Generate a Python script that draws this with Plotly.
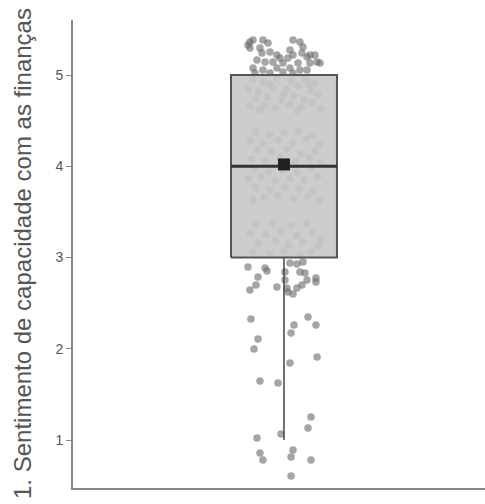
import plotly.graph_objects as go

# ---- data ----
y_title = "1. Sentimento de capacidade com as finanças"
tick_vals = [1, 2, 3, 4, 5]
tick_text = ["1", "2", "3", "4", "5"]

# box statistics
q1, median, q3 = 3, 4, 5
whisker_low, whisker_high = 1, 5
mean_val = 4.02

# jittered observations (x offset from box centre, jittered y)
jx_1 = [0.191, 0.170, -0.191, -0.021, -0.170, -0.149, 0.064, 0.050, 0.191, 0.050]
jy_1 = [1.252, 1.132, 1.022, 1.066, 0.858, 0.781, 0.890, 0.814, 0.781, 0.605]

jx_2 = [-0.234, -0.184, -0.212, -0.170, -0.042, 0.170, 0.071, 0.226, 0.050, 0.234, 0.042]
jy_2 = [2.326, 2.107, 1.997, 1.647, 1.625, 2.348, 2.260, 2.260, 2.173, 1.910, 1.844]

jx_3 = [-0.255, -0.134, -0.120, -0.184, -0.198, -0.241, -0.050, 0.007, 0.007, 0.021, 0.028,
        0.064, 0.042, 0.092, 0.134, 0.113, 0.149, 0.163, 0.226, 0.226, 0.127, 0.092,
        -0.20, -0.08, 0.05, 0.16, -0.24, -0.13, -0.02, 0.09, 0.20, -0.18, -0.06, 0.03,
        0.13, 0.24, -0.22, -0.10, 0.00, 0.11, 0.19, 0.26]
jy_3 = [2.896, 2.885, 2.852, 2.786, 2.699, 2.644, 2.677, 2.841, 2.753, 2.666, 2.622,
        2.600, 2.940, 2.929, 2.951, 2.841, 2.830, 2.753, 2.775, 2.732, 2.699, 2.666,
        3.36, 3.38, 3.35, 3.37, 3.27, 3.25, 3.29, 3.24, 3.28, 3.16, 3.18, 3.14,
        3.17, 3.13, 3.06, 3.04, 3.07, 3.03, 3.06, 3.20]

jx_4 = [-0.20, -0.10, 0.00, 0.10, 0.20, -0.24, -0.15, -0.04, 0.06, 0.16, 0.25, -0.19,
        -0.09, 0.02, 0.12, 0.22, -0.23, -0.13, -0.03, 0.08, 0.18, 0.26,
        -0.21, -0.11, -0.01, 0.09, 0.19, -0.25, -0.16, -0.06, 0.04, 0.14, 0.24, -0.20,
        -0.10, 0.01, 0.11, 0.21, -0.14, -0.04, 0.07, 0.17, -0.22, 0.25]
jy_4 = [4.38, 4.35, 4.37, 4.39, 4.34, 4.28, 4.25, 4.29, 4.26, 4.30, 4.24, 4.18,
        4.16, 4.19, 4.14, 4.17, 4.08, 4.06, 4.10, 4.05, 4.09, 4.03,
        3.97, 3.94, 3.96, 3.93, 3.98, 3.86, 3.88, 3.84, 3.87, 3.85, 3.89, 3.77,
        3.74, 3.78, 3.75, 3.72, 3.66, 3.68, 3.64, 3.67, 3.63, 3.62]

jx_5 = [-0.241, -0.219, -0.149, -0.113, 0.064, 0.113, 0.134, -0.241, -0.170, -0.156,
        -0.099, -0.050, -0.028, 0.042, 0.064, 0.127, 0.163, 0.184, 0.219, 0.234, 0.184,
        0.099, 0.028, -0.007, -0.078, -0.134, -0.191, -0.219, -0.149, -0.050, 0.042,
        0.113, 0.163, -0.007, 0.064, -0.099, -0.205, -0.255, 0.255,
        -0.22, -0.15, -0.05, 0.05, 0.15, 0.22, -0.25, -0.18, -0.08, 0.02, 0.10, 0.19,
        0.24, -0.20, -0.12, -0.02, 0.07, 0.14, -0.24, -0.14, -0.06, 0.04, 0.12, 0.20,
        -0.17, 0.09, 0.26, -0.10, 0.00, 0.18]
jy_5 = [5.362, 5.384, 5.384, 5.351, 5.384, 5.362, 5.307, 5.296, 5.296, 5.241,
        5.252, 5.219, 5.186, 5.274, 5.219, 5.241, 5.197, 5.219, 5.219, 5.142, 5.132,
        5.132, 5.186, 5.132, 5.142, 5.142, 5.164, 5.077, 5.055, 5.077, 5.077,
        5.055, 5.055, 5.033, 5.022, 5.022, 5.022, 5.329, 5.132,
        4.95, 4.92, 4.97, 4.94, 4.96, 4.91, 4.85, 4.82, 4.86, 4.84, 4.88, 4.83,
        4.78, 4.74, 4.76, 4.72, 4.77, 4.73, 4.66, 4.67, 4.64, 4.68, 4.65, 4.70,
        4.62, 4.61, 4.63, 4.90, 4.79, 4.90]

# ---- figure ----
center = 1.0
half_w = 0.375

xs = [center + v for v in jx_1 + jx_2 + jx_3 + jx_4 + jx_5]
ys = jy_1 + jy_2 + jy_3 + jy_4 + jy_5

fig = go.Figure()
fig.add_trace(go.Scatter(
    x=xs, y=ys, mode="markers",
    marker=dict(size=7.5, color="rgba(105,105,105,0.6)", line=dict(width=0)),
    hoverinfo="skip", showlegend=False))

# whisker
fig.add_trace(go.Scatter(
    x=[center, center], y=[whisker_low, q1], mode="lines",
    line=dict(color="#4d4d4d", width=1.6), showlegend=False, hoverinfo="skip"))
fig.add_trace(go.Scatter(
    x=[center, center], y=[q3, whisker_high], mode="lines",
    line=dict(color="#4d4d4d", width=1.6), showlegend=False, hoverinfo="skip"))

# box
fig.add_trace(go.Scatter(
    x=[center - half_w, center + half_w, center + half_w, center - half_w, center - half_w],
    y=[q1, q1, q3, q3, q1], mode="lines", fill="toself",
    fillcolor="rgba(200,200,200,0.9)",
    line=dict(color="#555555", width=2), showlegend=False, hoverinfo="skip"))

# median
fig.add_trace(go.Scatter(
    x=[center - half_w, center + half_w], y=[median, median], mode="lines",
    line=dict(color="#333333", width=3), showlegend=False, hoverinfo="skip"))

# mean
fig.add_trace(go.Scatter(
    x=[center], y=[mean_val], mode="markers",
    marker=dict(symbol="square", size=12, color="#222222"),
    showlegend=False, hoverinfo="skip"))

fig.update_layout(
    width=485, height=504,
    margin=dict(l=73, r=0, t=20, b=16),
    paper_bgcolor="white", plot_bgcolor="white",
    font=dict(family="Liberation Sans, Arial, sans-serif", color="#555555"),
    annotations=[dict(
        text=y_title, textangle=-90, xref="paper", yref="paper",
        x=0, y=0.5, xanchor="center", yanchor="middle", xshift=-51,
        showarrow=False, font=dict(size=24, color="#555555"))],
)
fig.update_xaxes(
    range=[-0.493, 2.4225], showline=True, linecolor="#888888", linewidth=2,
    showticklabels=False, ticks="", showgrid=False, zeroline=False)
fig.update_yaxes(
    range=[0.474, 5.603], showline=True, linecolor="#888888", linewidth=2,
    tickvals=tick_vals, ticktext=tick_text, ticks="outside", ticklen=5,
    tickcolor="#888888", tickwidth=1, tickfont=dict(size=14, color="#555555"),
    ticksuffix="\u00a0\u00a0\u00a0\u00a0\u00a0\u00a0\u00a0",
    showgrid=False, zeroline=False)

fig.write_html("out.html")
